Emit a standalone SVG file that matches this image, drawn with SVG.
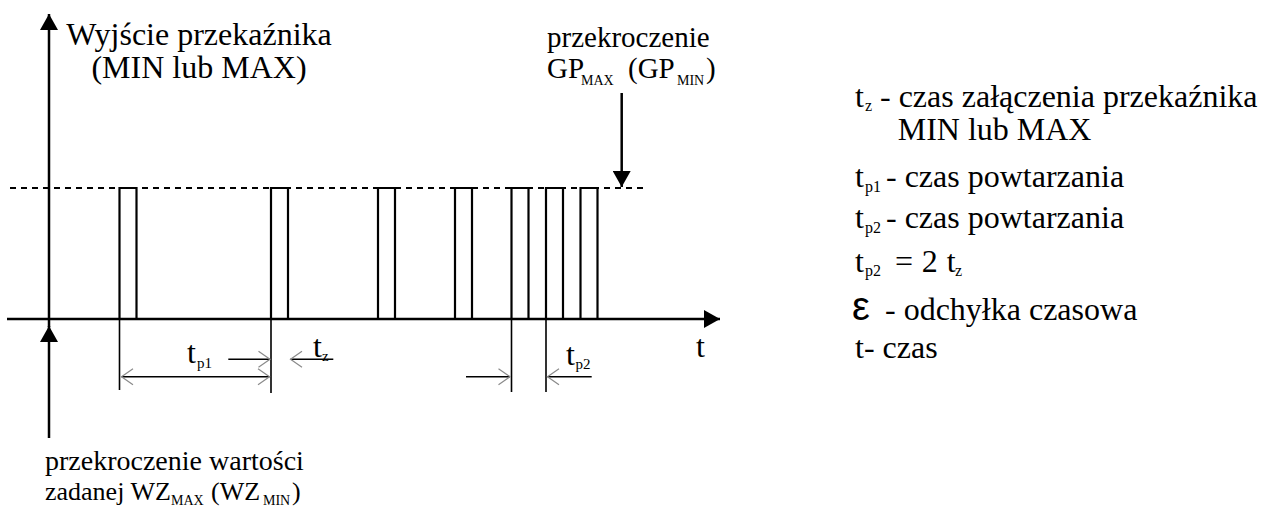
<svg xmlns="http://www.w3.org/2000/svg" width="1270" height="506" viewBox="0 0 1270 506">
<style>
text{font-family:"Liberation Serif","Times New Roman","DejaVu Serif",serif;fill:#000}
.b{font-size:32px}
.m{font-size:29px}
.s{font-size:28px}
.sub{font-size:15px}
.subs{font-size:14px}
.ax{stroke:#000;stroke-width:2.5;fill:none}
.pl{stroke:#000;stroke-width:2.2;fill:none}
.dash{stroke:#000;stroke-width:2;stroke-dasharray:6 5;fill:none}
.thin{stroke:#000;stroke-width:1.6;fill:none}
</style>
<defs>
<marker id="tri" markerUnits="userSpaceOnUse" markerWidth="16" markerHeight="18" viewBox="0 0 16 18" refX="16" refY="9" orient="auto">
<path d="M0,0 L16,9 L0,18 Z" fill="#000"/>
</marker>
<marker id="chev" markerUnits="userSpaceOnUse" markerWidth="14" markerHeight="18" viewBox="0 0 14 18" refX="12.5" refY="9" orient="auto-start-reverse">
<path d="M1,1 L12.5,9 L1,17" fill="none" stroke="#8a8a8a" stroke-width="1.2"/>
</marker>
</defs>

<g id="connectors">
<line class="ax" x1="49" y1="327" x2="49" y2="14" marker-end="url(#tri)"/>
<line class="ax" x1="7" y1="319" x2="720" y2="319" marker-end="url(#tri)"/>
<line class="ax" x1="49" y1="438" x2="49" y2="326" marker-end="url(#tri)"/>
<line class="ax" x1="621.7" y1="93" x2="621.7" y2="187" marker-end="url(#tri)"/>
<line class="dash" x1="10" y1="188" x2="648" y2="188"/>
<path class="pl" d="M119.5,319 V188 H136.5 V319 M271,319 V188 H288 V319 M378,319 V188 H395 V319 M455,319 V188 H472 V319 M511.5,319 V188 H528.5 V319 M546,319 V188 H563 V319 M580.5,319 V188 H597.5 V319"/>
<path class="thin" d="M119.5,319 V390 M271,319 V393 M511.5,319 V392 M546,319 V392"/>
<line class="thin" x1="121.5" y1="376.7" x2="269.5" y2="376.7" marker-start="url(#chev)" marker-end="url(#chev)"/>
<line class="thin" x1="228.3" y1="359.3" x2="270" y2="359.3" marker-end="url(#chev)"/>
<line class="thin" x1="333.3" y1="359.3" x2="290.5" y2="359.3" marker-end="url(#chev)"/>
<line class="thin" x1="466" y1="376.7" x2="510" y2="376.7" marker-end="url(#chev)"/>
<line class="thin" x1="591.7" y1="376.7" x2="547.5" y2="376.7" marker-end="url(#chev)"/>
</g>

<g id="label-title">
<text class="b" x="199" y="45" text-anchor="middle">Wyjście przekaźnika</text>
<text class="b" x="199" y="78" text-anchor="middle">(MIN lub MAX)</text>
</g>

<g id="label-gp">
<text class="m" x="547" y="47">przekroczenie</text>
<text class="m" x="547" y="78">GP<tspan class="subs" x="581" y="85">MAX</tspan><tspan x="628" y="78">(GP</tspan><tspan class="subs" x="677" y="85">MIN</tspan><tspan x="706" y="78">)</tspan></text>
</g>

<g id="label-t">
<text class="b" x="696" y="357">t</text>
</g>

<g id="label-tp1">
<text class="b" x="187" y="363">t<tspan class="sub" x="197" y="368">p1</tspan></text>
</g>

<g id="label-tz">
<text class="b" x="313" y="357">t<tspan class="sub" x="322" y="361">z</tspan></text>
</g>

<g id="label-tp2">
<text class="b" x="566" y="365">t<tspan class="sub" x="575.5" y="369">p2</tspan></text>
</g>

<g id="label-wz">
<text class="s" x="45" y="470">przekroczenie wartości</text>
<text style="font-size:26px" x="45" y="500">zadanej WZ<tspan class="subs" x="171" y="505">MAX</tspan><tspan x="211" y="500">(WZ</tspan><tspan class="subs" x="263" y="505">MIN</tspan><tspan x="292" y="500">)</tspan></text>
</g>

<g id="legend">
<text class="b" x="855" y="107">t<tspan style="font-size:16px" x="865" y="111">z</tspan><tspan x="880" y="107">- czas załączenia przekaźnika</tspan></text>
<text class="b" x="897.7" y="140">MIN lub MAX</text>
<text class="b" x="855" y="187">t<tspan style="font-size:16px" x="865" y="192">p1</tspan><tspan x="886" y="187">- czas powtarzania</tspan></text>
<text class="b" x="855" y="228">t<tspan style="font-size:16px" x="865" y="233">p2</tspan><tspan x="886" y="228">- czas powtarzania</tspan></text>
<text class="b" x="855" y="271.7">t<tspan style="font-size:16px" x="865" y="276">p2</tspan><tspan x="895" y="271.7">=</tspan><tspan x="921.7" y="271.7">2</tspan><tspan x="946.7" y="271.7">t</tspan><tspan style="font-size:16px" x="955" y="276">z</tspan></text>
<text style="font-family:'Liberation Sans',Arial,sans-serif;font-size:40px" x="852" y="320">ε</text>
<text class="b" x="885" y="320">- odchyłka czasowa</text>
<text class="b" x="855" y="358">t- czas</text>
</g>
</svg>
